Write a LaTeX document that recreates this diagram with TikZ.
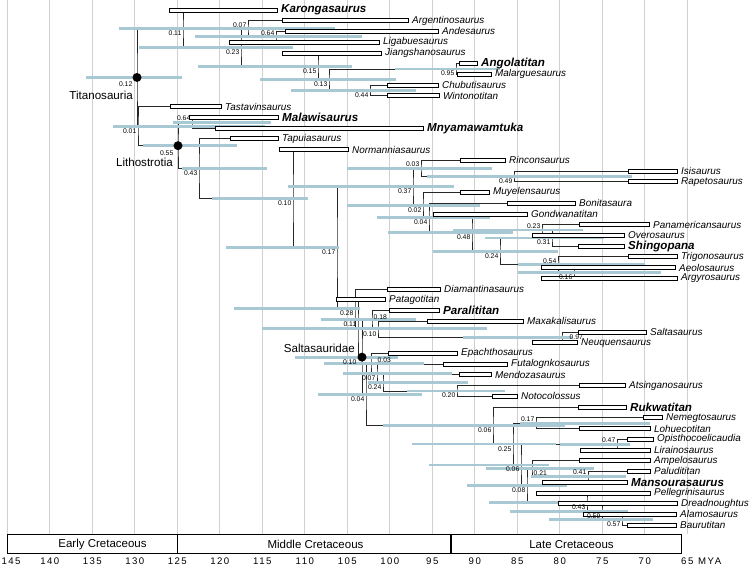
\documentclass[tikz,border=0pt]{standalone}
\usepackage{fontspec}
\setmainfont{Liberation Sans}
\usetikzlibrary{calc}

\definecolor{hpdblue}{RGB}{168,201,211}
\definecolor{gridgrey}{RGB}{208,208,208}

\pgfdeclarelayer{gridlayer}
\pgfdeclarelayer{edgelayer}
\pgfdeclarelayer{hpdlayer}
\pgfsetlayers{gridlayer,edgelayer,hpdlayer,main}

\tikzset{
  gridline/.style={draw=gridgrey, line width=0.9pt},
  branch/.style={draw=black!85, line width=0.8pt},
  hpd/.style={draw=hpdblue, line width=2.8pt},
  taxbar/.style={draw=black, fill=white, line width=0.7pt},
  taxlab/.style={anchor=west, inner sep=0pt, font=\fontsize{9.9}{10}\selectfont\itshape},
  newtax/.style={taxlab, font=\fontsize{11.6}{12}\selectfont\bfseries\itshape},
  pp/.style={inner sep=0.5pt, font=\fontsize{6.8}{7}\selectfont},
  ppbl/.style={pp, anchor=north east, xshift=-1pt, yshift=-1.5pt},
  ppal/.style={pp, anchor=south east, xshift=-1pt, yshift=1pt},
  ppr/.style={pp, anchor=west, xshift=7pt},
  ppar/.style={pp, anchor=south west, xshift=1pt},
  ppbr/.style={pp, anchor=north west, xshift=1pt, yshift=-1.5pt},
  cladename/.style={anchor=east, inner sep=0pt, font=\fontsize{11.6}{12}\selectfont},
  cladedot/.style={circle, fill=black, inner sep=0pt, minimum size=9pt},
  axlab/.style={inner sep=0pt, font=\fontsize{9.6}{10}\selectfont\addfontfeature{LetterSpace=15}},
  period/.style={inner sep=0pt, font=\fontsize{11.5}{12}\selectfont},
}

% tip: key, row, range start, range end, name
\newcommand{\taxon}[6][taxlab]{%
  \coordinate (#2) at (#4,{10+10.73*#3});
  \draw[taxbar] (#4,{10+10.73*#3-2}) rectangle (#5,{10+10.73*#3+2});
  \node[#1] (#2-name) at (#5+4,{10+10.73*#3}) {#6};
}
% internal node: key, x, upper child, lower child, posterior
\newcommand{\clade}[6][ppbl]{%
  \path let \p1=(#4), \p2=(#5) in coordinate (#2) at (#3pt,{0.5*(\y1+\y2)});
  \begin{pgfonlayer}{edgelayer}
    \draw[branch] (#4) -| (#2) |- (#5);
  \end{pgfonlayer}
  \node[#1] (#2-pp) at (#2) {#6};
}
% node age interval
\newcommand{\hpdbar}[3]{%
  \begin{pgfonlayer}{hpdlayer}
    \draw[hpd] let \p1=(#1) in (#2pt,\y1) -- (#3pt,\y1);
  \end{pgfonlayer}
}

\begin{document}
\begin{tikzpicture}[x=1pt, y=-1pt]
\useasboundingbox (0,0) rectangle (750,565);

% time grid
\begin{pgfonlayer}{gridlayer}
\foreach \t in {145,140,...,65}
  \draw[gridline] ({7.3+(145-\t)*8.5},0) -- ({7.3+(145-\t)*8.5},534);
\end{pgfonlayer}

% tips
\taxon[newtax]{karo}{0}{169}{277}{Karongasaurus}
\taxon{arge}{1}{282}{408}{Argentinosaurus}
\taxon{ande}{2}{285}{438}{Andesaurus}
\taxon{liga}{3}{229}{379}{Ligabuesaurus}
\taxon{jian}{4}{282}{381}{Jiangshanosaurus}
\taxon[newtax]{ango}{5}{459}{477}{Angolatitan}
\taxon{mala}{6}{457}{491}{Malarguesaurus}
\taxon{chub}{7}{387}{438}{Chubutisaurus}
\taxon{wint}{8}{387}{439}{Wintonotitan}
\taxon{tast}{9}{170}{221}{Tastavinsaurus}
\taxon[newtax]{malw}{10}{189}{278}{Malawisaurus}
\taxon[newtax]{mnya}{11}{215}{423}{Mnyamawamtuka}
\taxon{tapu}{12}{230}{278}{Tapuiasaurus}
\taxon{norm}{13}{279}{348}{Normanniasaurus}
\taxon{rinc}{14}{460}{505}{Rinconsaurus}
\taxon{isis}{15}{628}{677}{Isisaurus}
\taxon{rape}{16}{628}{677}{Rapetosaurus}
\taxon{muye}{17}{460}{489}{Muyelensaurus}
\taxon{boni}{18}{507}{575}{Bonitasaura}
\taxon{gond}{19}{433}{527}{Gondwanatitan}
\taxon{pana}{20}{579}{649}{Panamericansaurus}
\taxon{over}{21}{532}{624}{Overosaurus}
\taxon[newtax]{shin}{22}{578}{624}{Shingopana}
\taxon{trig}{23}{628}{677}{Trigonosaurus}
\taxon{aeol}{24}{541}{675}{Aeolosaurus}
\taxon{argy}{25}{541}{677}{Argyrosaurus}
\taxon{diam}{26}{387}{440}{Diamantinasaurus}
\taxon{pata}{27}{336}{385}{Patagotitan}
\taxon[newtax]{para}{28}{389}{439}{Paralititan}
\taxon{maxa}{29}{427}{523}{Maxakalisaurus}
\taxon{salt}{30}{578}{646}{Saltasaurus}
\taxon{neuq}{31}{532}{577}{Neuquensaurus}
\taxon{epac}{32}{388}{457}{Epachthosaurus}
\taxon{futa}{33}{443}{507}{Futalognkosaurus}
\taxon{mend}{34}{459}{491}{Mendozasaurus}
\taxon{atsi}{35}{579}{625}{Atsinganosaurus}
\taxon{noto}{36}{492}{517}{Notocolossus}
\taxon[newtax]{rukw}{37}{578}{626}{Rukwatitan}
\taxon{neme}{38}{643}{662}{Nemegtosaurus}
\taxon{lohu}{39}{579}{650}{Lohuecotitan}
\taxon{opis}{40}{627}{653}{Opisthocoelicaudia}
\taxon{lira}{41}{580}{650}{Lirainosaurus}
\taxon{ampe}{42}{579}{650}{Ampelosaurus}
\taxon{palu}{43}{627}{650}{Paludititan}
\taxon[newtax]{mans}{44}{542}{627}{Mansourasaurus}
\taxon{pell}{45}{536}{650}{Pellegrinisaurus}
\taxon{drea}{46}{558}{677}{Dreadnoughtus}
\taxon{alam}{47}{583}{676}{Alamosaurus}
\taxon{baur}{48}{627}{676}{Baurutitan}

% clades, upper part
\clade[ppal]{C2}{276}{ande}{liga}{0.64}
\clade[ppal]{C}{248}{arge}{C2}{0.07}
\clade{F}{456}{ango}{mala}{0.95}
\clade{G}{370}{chub}{wint}{0.44}
\clade{E}{329}{F}{G}{0.13}
\clade{D}{318}{jian}{E}{0.15}
\clade{B}{241}{C}{D}{0.23}
\clade{A}{183}{karo}{B}{0.11}
\clade[ppal]{M}{192}{malw}{mnya}{0.64}
\clade{W}{514}{isis}{rape}{0.49}
\clade[ppal]{U}{421}{rinc}{W}{0.03}
\clade[ppal]{A23}{542}{pana}{over}{0.23}
\clade{AA}{552}{A23}{shin}{0.31}
\clade{AD}{574}{aeol}{argy}{0.16}
\clade[ppal]{AB}{558}{trig}{AD}{0.54}
\clade{Z}{500}{AA}{AB}{0.24}
\clade{Y}{472}{gond}{Z}{0.48}
\clade{X}{429}{boni}{Y}{0.04}
\clade{V}{423}{muye}{X}{0.02}
\clade{R}{413}{U}{V}{0.37}
% clades, lower part
\clade[ppr]{Sal2}{562}{salt}{neuq}{0.97}
\clade{K1b}{378}{maxa}{Sal2}{0.10}
\clade[ppar]{K1}{372}{para}{K1b}{0.18}
\clade{N20}{457}{atsi}{noto}{0.20}
\clade{N24}{383}{mend}{N20}{0.24}
\clade{N07}{377}{futa}{N24}{0.07}
\clade[ppar, xshift=5pt]{N03}{371}{epac}{N07}{0.03}
\clade[ppal]{N17}{536}{neme}{lohu}{0.17}
\clade[ppal]{N47}{617}{opis}{lira}{0.47}
\clade[ppal]{N41}{588}{palu}{mans}{0.41}
\clade[ppbr]{N21}{532}{ampe}{N41}{0.21}
\clade{N57}{622}{alam}{baur}{0.57}
\clade{N59}{602}{drea}{N57}{0.59}
\clade{Npd}{587}{pell}{N59}{0.43}
\clade{N08}{527}{N21}{Npd}{0.08}
\clade{N06}{521}{N47}{N08}{0.06}
\clade{N25}{513}{N17}{N06}{0.25}
\clade{LOW}{493}{rukw}{N25}{0.06}
\clade{K2}{366}{N03}{LOW}{0.04}
\clade[ppbl, xshift=-4pt]{Sal}{362}{K1}{K2}{0.10}
\clade[ppal]{S2}{358}{pata}{Sal}{0.11}
\clade{S}{355}{diam}{S2}{0.28}
\clade{Q}{337}{R}{S}{0.17}
\clade{P}{293}{norm}{Q}{0.10}
\clade{N43}{199}{tapu}{P}{0.43}
\clade[ppbl, xshift=-3pt, yshift=-2.5pt]{Li}{178}{M}{N43}{0.55}
\clade{L0}{138}{tast}{Li}{0.01}
\clade[ppbl, xshift=-3pt, yshift=-2.6pt]{T}{137}{A}{L0}{0.12}

% node age intervals
\hpdbar{T}{86}{182}
\hpdbar{A}{119}{335}
\hpdbar{C2}{195}{362}
\hpdbar{B}{139}{293}
\hpdbar{D}{198}{352}
\hpdbar{F}{395}{500}
\hpdbar{E}{260}{396}
\hpdbar{G}{291}{416}
\hpdbar{L0}{113}{265}
\hpdbar{M}{173}{271}
\hpdbar{Li}{143}{237}
\hpdbar{N43}{182}{267}
\hpdbar{P}{212}{308}
\hpdbar{R}{288}{454}
\hpdbar{U}{347}{492}
\hpdbar{W}{427}{632}
\hpdbar{V}{347}{480}
\hpdbar{X}{377}{490}
\hpdbar{Y}{388}{513}
\hpdbar{A23}{453}{583}
\hpdbar{AA}{485}{604}
\hpdbar{Z}{433}{558}
\hpdbar{AB}{518}{645}
\hpdbar{AD}{518}{661}
\hpdbar{Q}{226}{339}
\hpdbar{S}{234}{360}
\hpdbar{S2}{262}{487}
\hpdbar{K1}{321}{416}
\hpdbar{Sal2}{463}{572}
\hpdbar{Sal}{295}{398}
\hpdbar{N03}{324}{424}
\hpdbar{N07}{343}{452}
\hpdbar{N24}{368}{468}
\hpdbar{K2}{318}{422}
\hpdbar{N20}{407}{505}
\hpdbar{LOW}{383}{565}
\hpdbar{N17}{520}{650}
\hpdbar{N25}{412}{556}
\hpdbar{N47}{560}{630}
\hpdbar{N06}{429}{549}
\hpdbar{N21}{486}{594}
\hpdbar{N41}{531}{626}
\hpdbar{N08}{467}{567}
\hpdbar{Npd}{489}{607}
\hpdbar{N59}{510}{628}
\hpdbar{N57}{549}{653}

% named clades
\node[cladedot] (titano-dot) at (T) {};
\node[cladedot] (litho-dot) at (Li) {};
\node[cladedot] (salta-dot) at (Sal) {};
\node[cladename] (titano) at (133,95) {Titanosauria};
\node[cladename] (litho) at (173,162) {Lithostrotia};
\node[cladename] (salta) at (355,348) {Saltasauridae};

% time scale
\draw[line width=0.8pt] (7.3,534) rectangle (681,553);
\draw[line width=1.4pt] (177.3,534) -- (177.3,553);
\draw[line width=1.4pt] (451,534) -- (451,553);
\node[period] (early) at (102.5,544.5) {Early Cretaceous};
\node[period] (middle) at (315.5,544.5) {Middle Cretaceous};
\node[period] (late) at (571.5,544.5) {Late Cretaceous};
\foreach \t in {145,140,...,65}
  \node[axlab, anchor=base] (ax\t) at ({max(7.3+(145-\t)*8.5,11)},564) {\t};
\node[axlab, anchor=base west] (mya) at (698,564) {MYA};
\end{tikzpicture}
\end{document}
